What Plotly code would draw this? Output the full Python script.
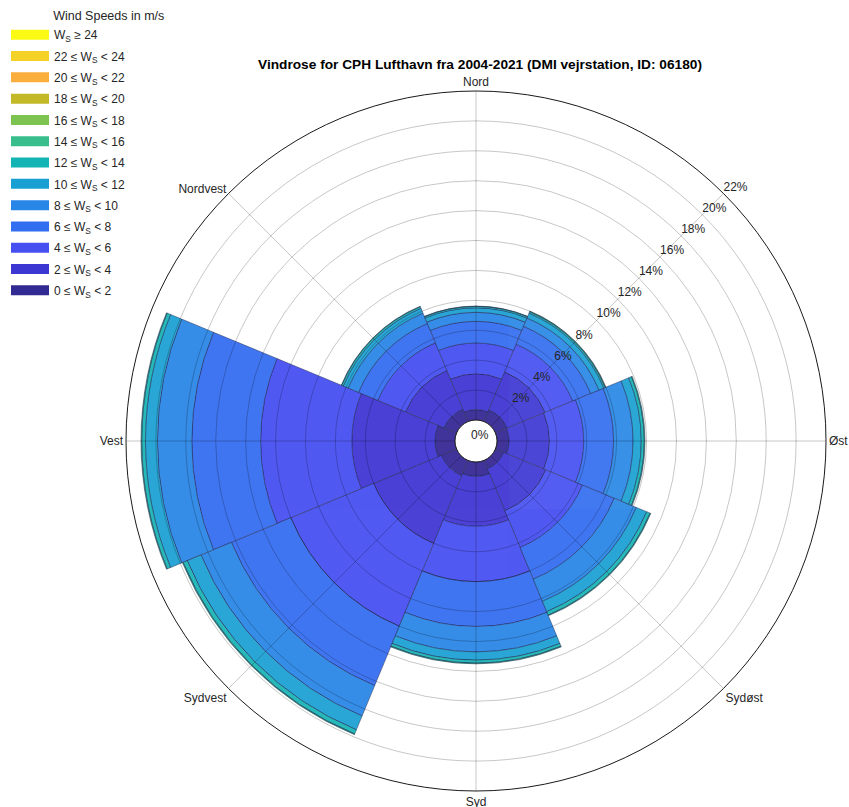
import plotly.graph_objects as go

# ---------------- data ----------------
directions = [0, 45, 90, 135, 180, 225, 270, 315]          # N, NE, E, SE, S, SW, W, NW
direction_labels = ["Nord", "", "Øst", "Sydøst", "Syd", "Sydvest", "Vest", "Nordvest"]

# frequency (%) of each wind-speed class per direction (N, NE, E, SE, S, SW, W, NW)
f_0_2   = [0.69, 0.85, 0.80, 0.60, 0.96, 1.10, 1.34, 0.90]
f_2_4   = [2.39, 2.75, 2.70, 3.05, 3.34, 4.90, 5.56, 2.80]
f_4_6   = [2.07, 2.00, 2.30, 2.65, 3.70, 6.00, 6.10, 2.00]
f_6_8   = [1.45, 1.30, 2.00, 2.30, 3.00, 4.30, 4.60, 1.40]
f_8_10  = [0.60, 0.60, 1.30, 1.60, 1.70, 2.20, 2.30, 0.75]
f_10_12 = [0.30, 0.35, 0.55, 0.75, 0.55, 1.00, 0.80, 0.35]
f_12_14 = [0.10, 0.10, 0.20, 0.25, 0.20, 0.30, 0.25, 0.12]
f_14_16 = [0.02, 0.05, 0.05, 0.05, 0.05, 0.05, 0.05, 0.03]
f_16_18 = [0, 0, 0, 0, 0, 0, 0, 0]
f_18_20 = [0, 0, 0, 0, 0, 0, 0, 0]
f_20_22 = [0, 0, 0, 0, 0, 0, 0, 0]
f_22_24 = [0, 0, 0, 0, 0, 0, 0, 0]
f_24_up = [0, 0, 0, 0, 0, 0, 0, 0]

speed_bins = [f_0_2, f_2_4, f_4_6, f_6_8, f_8_10, f_10_12, f_12_14,
              f_14_16, f_16_18, f_18_20, f_20_22, f_22_24, f_24_up]
bin_labels = [
    "0 ≤ W<sub>S</sub> &lt; 2", "2 ≤ W<sub>S</sub> &lt; 4", "4 ≤ W<sub>S</sub> &lt; 6",
    "6 ≤ W<sub>S</sub> &lt; 8", "8 ≤ W<sub>S</sub> &lt; 10", "10 ≤ W<sub>S</sub> &lt; 12",
    "12 ≤ W<sub>S</sub> &lt; 14", "14 ≤ W<sub>S</sub> &lt; 16", "16 ≤ W<sub>S</sub> &lt; 18",
    "18 ≤ W<sub>S</sub> &lt; 20", "20 ≤ W<sub>S</sub> &lt; 22", "22 ≤ W<sub>S</sub> &lt; 24",
    "W<sub>S</sub> ≥ 24",
]
bin_colors = ["#302a92", "#3c37d2", "#4650f0", "#326ef0", "#2887e6", "#19a0d2", "#14b4b4",
              "#37be8c", "#7dc350", "#c3b928", "#faaf3c", "#f5d228", "#fafa14"]

radial_ticks = [2, 4, 6, 8, 10, 12, 14, 16, 18, 20, 22]

# ---------------- figure ----------------
FONT = "Liberation Sans, Arial, Helvetica, sans-serif"
W, H = 849, 807
fig = go.Figure()

for vals, col in zip(speed_bins, bin_colors):
    fig.add_trace(go.Barpolar(
        r=vals, theta=directions, width=[45] * len(directions),
        marker=dict(color=col, line=dict(color="rgba(25,25,70,0.6)", width=0.8)),
        opacity=0.92, showlegend=False, hoverinfo="skip", subplot="polar"))

# legend entries (highest class on top)
for label, col in reversed(list(zip(bin_labels, bin_colors))):
    fig.add_trace(go.Scatterpolar(
        r=[None], theta=[None], mode="lines", name=label, legendgroup=label,
        line=dict(color=col, width=12), subplot="polar2"))

# radial tick labels along the north-east spoke
fig.add_trace(go.Scatterpolar(
    r=radial_ticks, theta=[45] * len(radial_ticks), mode="text",
    text=[f"{v}%" for v in radial_ticks], textposition="top right",
    textfont=dict(size=12, color="#262626", family=FONT),
    cliponaxis=False, showlegend=False, hoverinfo="skip", subplot="polar2"))

CY = 441   # pixel row of the rose centre
dom = dict(x=[126 / W, 826 / W], y=[(H - CY - 350) / H, (H - CY + 350) / H])
hole = 21 / 350
pad = "&nbsp;" * 13

fig.update_layout(
    width=W, height=H,
    margin=dict(l=0, r=0, t=0, b=0),
    paper_bgcolor="white",
    font=dict(family=FONT, size=12, color="#262626"),
    title=dict(text="<b>Vindrose for CPH Lufthavn fra 2004-2021 (DMI vejrstation, ID: 06180)</b>",
               x=480 / W, xanchor="center", y=1 - 64 / H, yanchor="middle",
               font=dict(size=13.7, color="#000000", family=FONT)),
    polar=dict(
        domain=dom, hole=hole, bgcolor="white", barmode="stack",
        radialaxis=dict(range=[0, 22], showgrid=False, showticklabels=False,
                        showline=False, ticks=""),
        angularaxis=dict(rotation=90, direction="clockwise", showgrid=False,
                         showticklabels=False, showline=False, ticks=""),
    ),
    polar2=dict(
        domain=dom, hole=hole, bgcolor="rgba(0,0,0,0)",
        radialaxis=dict(range=[0, 22], tickvals=radial_ticks, showticklabels=False,
                        gridcolor="rgba(0,0,0,0.22)", gridwidth=1, showline=False,
                        ticks="", angle=45),
        angularaxis=dict(rotation=90, direction="clockwise", tickvals=directions,
                         ticktext=direction_labels, gridcolor="rgba(0,0,0,0.22)",
                         linecolor="#1a1a1a", linewidth=1, ticks="",
                         tickfont=dict(size=12, color="#262626")),
    ),
    legend=dict(x=6 / W, y=1 - 4 / H, xanchor="left", yanchor="top",
                title=dict(text=pad + "Wind Speeds in m/s", font=dict(size=12.5), side="top"),
                font=dict(size=12, color="#262626"), itemwidth=38,
                traceorder="grouped", tracegroupgap=2.3, bgcolor="rgba(0,0,0,0)"),
    annotations=[dict(text="0%", x=480 / W, y=1 - (CY - 6) / H, xref="paper", yref="paper",
                      showarrow=False, font=dict(size=12, color="#262626"))],
)

# the page is photographed from its top-left corner: drop the default body margin
fig.write_html("out.html", config={"displayModeBar": False},
               post_script="document.body.style.margin='0px';")
